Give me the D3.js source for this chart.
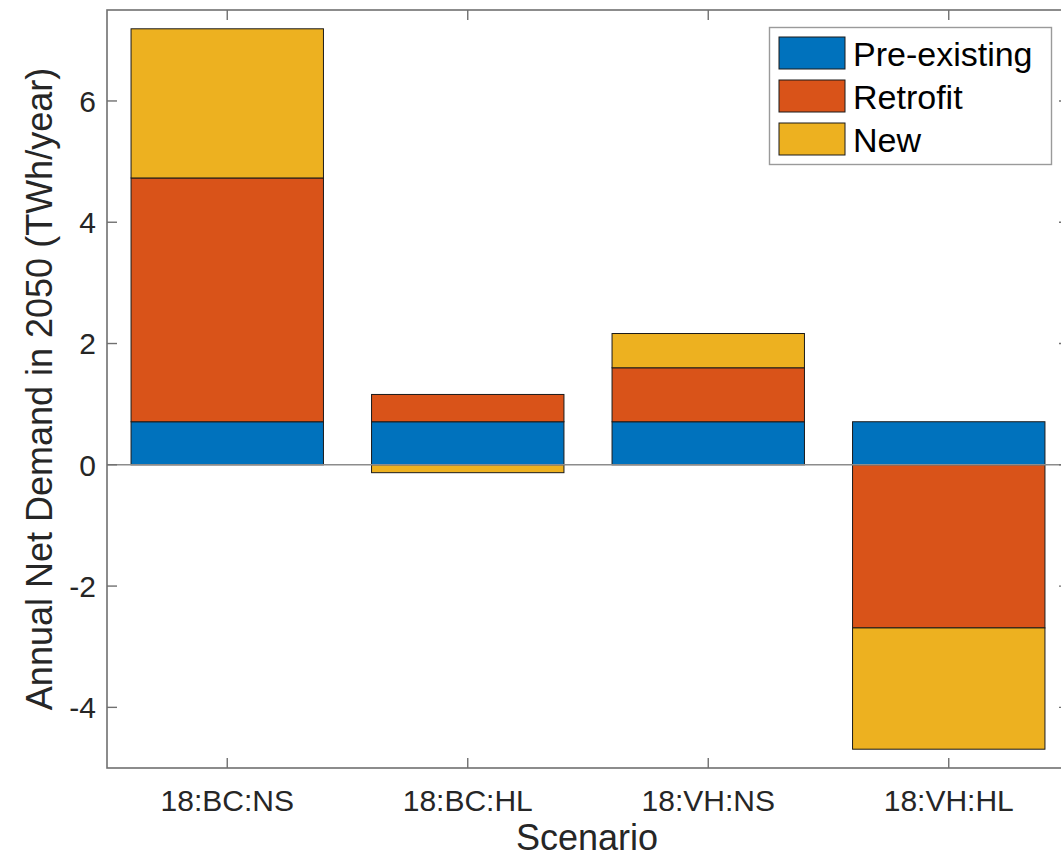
<!DOCTYPE html>
<html>
<head>
<meta charset="utf-8">
<script src="https://cdn.jsdelivr.net/npm/d3@7"></script>
<style>
  html, body { margin: 0; padding: 0; background: #fff; overflow: hidden; }
  svg { display: block; font-family: "Liberation Sans", Arial, Helvetica, sans-serif; }
</style>
</head>
<body>
<svg id="chart" width="1061" height="859"></svg>
<script>
// Scenario categories and stacked components (TWh/year in 2050)
const scenarios = ["18:BC:NS", "18:BC:HL", "18:VH:NS", "18:VH:HL"];
const seriesNames = ["Pre-existing", "Retrofit", "New"];
const preExisting = [0.71, 0.71, 0.71, 0.71];
const retrofit = [4.02, 0.45, 0.89, -2.69];
const newBuild = [2.46, -0.13, 0.565, -2.00];
const yTicks = [-4, -2, 0, 2, 4, 6];
const yDomain = [-5, 7.5];
const colors = ["#0072BD", "#D95319", "#EDB120"];

const seriesValues = [preExisting, retrofit, newBuild];

const svg = d3.select("#chart");
const margin = { left: 107, top: 10, right: 1069, bottom: 768 };

const x = d3.scaleBand()
  .domain(scenarios)
  .range([margin.left, margin.right])
  .paddingInner(0.2)
  .paddingOuter(0.1);

const y = d3.scaleLinear().domain(yDomain).range([margin.bottom, margin.top]);

// Stack positives and negatives separately, per category
const segments = [];
scenarios.forEach((s, i) => {
  let pos = 0, neg = 0;
  seriesValues.forEach((vals, k) => {
    const v = vals[i];
    let y0, y1;
    if (v >= 0) { y0 = pos; y1 = pos + v; pos = y1; }
    else { y0 = neg; y1 = neg + v; neg = y1; }
    segments.push({ cat: s, k, y0, y1 });
  });
});

const axisColor = "#707070";
const textColor = "#262626";

// Bars
svg.append("g").selectAll("rect")
  .data(segments)
  .join("rect")
  .attr("x", d => x(d.cat))
  .attr("width", x.bandwidth())
  .attr("y", d => y(Math.max(d.y0, d.y1)))
  .attr("height", d => Math.abs(y(d.y0) - y(d.y1)))
  .attr("fill", d => colors[d.k])
  .attr("stroke", "#1a1a1a")
  .attr("stroke-width", 1);

// Baseline at zero
svg.append("line")
  .attr("x1", margin.left).attr("x2", margin.right)
  .attr("y1", y(0)).attr("y2", y(0))
  .attr("stroke", "#8c8c8c").attr("stroke-width", 1.5);

// Axes box
const frame = svg.append("g").attr("fill", "none").attr("stroke", axisColor).attr("stroke-width", 1.6);
frame.append("rect")
  .attr("x", margin.left).attr("y", margin.top)
  .attr("width", margin.right - margin.left)
  .attr("height", margin.bottom - margin.top);

// Inward ticks on all four sides
const tickLen = 10;
const ticks = svg.append("g").attr("stroke", axisColor).attr("stroke-width", 1.4);
yTicks.forEach(t => {
  ticks.append("line").attr("x1", margin.left).attr("x2", margin.left + tickLen)
    .attr("y1", y(t)).attr("y2", y(t));
  ticks.append("line").attr("x1", margin.right).attr("x2", margin.right - tickLen)
    .attr("y1", y(t)).attr("y2", y(t));
});
scenarios.forEach(s => {
  const cx = x(s) + x.bandwidth() / 2;
  ticks.append("line").attr("x1", cx).attr("x2", cx)
    .attr("y1", margin.bottom).attr("y2", margin.bottom - tickLen);
  ticks.append("line").attr("x1", cx).attr("x2", cx)
    .attr("y1", margin.top).attr("y2", margin.top + tickLen);
});

// Tick labels
svg.append("g").selectAll("text")
  .data(yTicks)
  .join("text")
  .attr("x", margin.left - 11)
  .attr("y", d => y(d))
  .attr("dy", "0.36em")
  .attr("text-anchor", "end")
  .attr("font-size", 30)
  .attr("fill", textColor)
  .text(d => d);

svg.append("g").selectAll("text")
  .data(scenarios)
  .join("text")
  .attr("x", d => x(d) + x.bandwidth() / 2)
  .attr("y", 811)
  .attr("text-anchor", "middle")
  .attr("font-size", 30)
  .attr("fill", textColor)
  .text(d => d);

// Axis titles
svg.append("text")
  .attr("x", (margin.left + margin.right) / 2 - 1)
  .attr("y", 850)
  .attr("text-anchor", "middle")
  .attr("font-size", 36)
  .attr("fill", textColor)
  .text("Scenario");

svg.append("text")
  .attr("transform", `translate(52, ${(margin.top + margin.bottom) / 2}) rotate(-90)`)
  .attr("text-anchor", "middle")
  .attr("font-size", 36)
  .attr("fill", textColor)
  .text("Annual Net Demand in 2050 (TWh/year)");

// Legend
const legend = svg.append("g");
legend.append("rect")
  .attr("x", 769.5).attr("y", 27.5)
  .attr("width", 282).attr("height", 137)
  .attr("fill", "#fff").attr("stroke", "#9a9a9a").attr("stroke-width", 1.4);

seriesNames.forEach((name, k) => {
  const top = 37 + k * 43;
  legend.append("rect")
    .attr("x", 779).attr("y", top)
    .attr("width", 66).attr("height", 32)
    .attr("fill", colors[k]).attr("stroke", "#1a1a1a").attr("stroke-width", 1);
  legend.append("text")
    .attr("x", 853).attr("y", top + 17)
    .attr("dy", "0.36em")
    .attr("font-size", 34)
    .attr("fill", "#000")
    .text(name);
});
</script>
</body>
</html>
